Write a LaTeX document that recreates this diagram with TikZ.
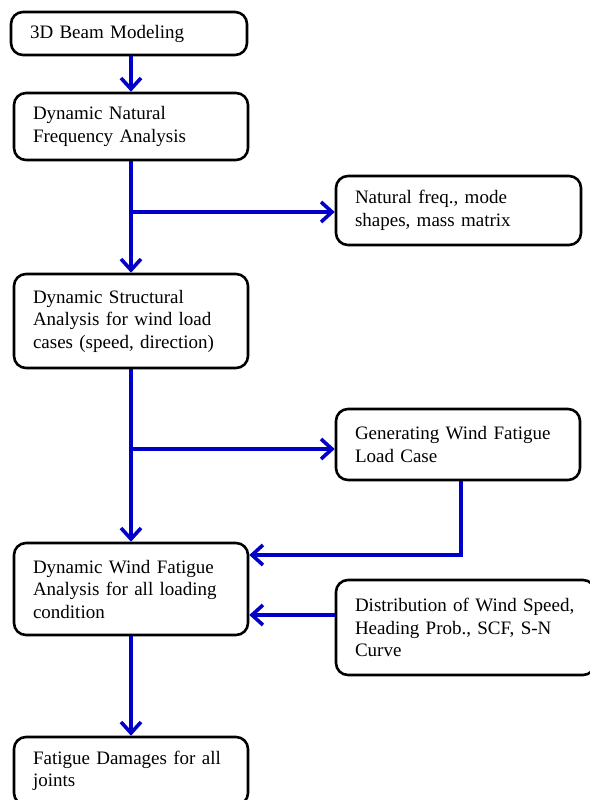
\documentclass[tikz,border=0pt]{standalone}
\usepackage{fontspec}
\setmainfont{Liberation Serif}
\usetikzlibrary{arrows.meta}
\definecolor{arrblue}{RGB}{0,0,200}
\begin{document}
\begin{tikzpicture}[x=1pt,y=-1pt,
  box/.style={draw=black, line width=2.6pt, rounded corners=12pt, fill=white,
    inner xsep=19pt, inner ysep=2pt, align=left,
    font=\fontsize{19}{22.5}\selectfont},
  arr/.style={draw=arrblue, line width=3.6pt,
    -{Straight Barb[length=11pt,width=20pt,line width=3.6pt]}}]
\useasboundingbox (0,0) rectangle (589,800);
\fill[white] (0,0) rectangle (589,800);
\node[box, text width=198pt, minimum height=43pt] (b1) at (129,33.5) {3D Beam Modeling};
\node[box, text width=196pt, minimum height=67pt] (b2) at (131,126.5) {Dynamic Natural\\Frequency Analysis};
\node[box, text width=207pt, minimum height=69pt] (b3) at (458.5,210.5) {Natural freq., mode\\shapes, mass matrix};
\node[box, text width=196pt, minimum height=94pt] (b4) at (131,321) {Dynamic Structural\\Analysis for wind load\\cases (speed, direction)};
\node[box, text width=206pt, minimum height=71pt] (b5) at (458,444.5) {Generating Wind Fatigue\\Load Case};
\node[box, text width=196pt, minimum height=92pt] (b6) at (131,589) {Dynamic Wind Fatigue\\Analysis for all loading\\condition};
\node[box, text width=221pt, minimum height=95pt] (b7) at (465.5,627.5) {Distribution of Wind Speed,\\Heading Prob., SCF, S-N\\Curve};
\node[box, text width=196pt, minimum height=68pt] (b8) at (131,771) {Fatigue Damages for all\\joints};
\coordinate (k1) at (461,555);
\coordinate (k2) at (0,615);
\coordinate (k3) at (0,212);
\coordinate (k4) at (0,449);
\draw[arr] (b2.north |- b1.south) -- (b2.north);
\draw[arr] (b2.south) -- (b4.north);
\draw[arr] (b2.south |- k3) -- (b3.west |- k3);
\draw[arr] (b4.south) -- (b6.north);
\draw[arr] (b4.south |- k4) -- (b5.west |- k4);
\draw[arr] (b5.south -| k1) |- (b6.east |- k1);
\draw[arr] (b7.west |- k2) -- (b6.east |- k2);
\draw[arr] (b6.south) -- (b8.north);
\end{tikzpicture}
\end{document}
